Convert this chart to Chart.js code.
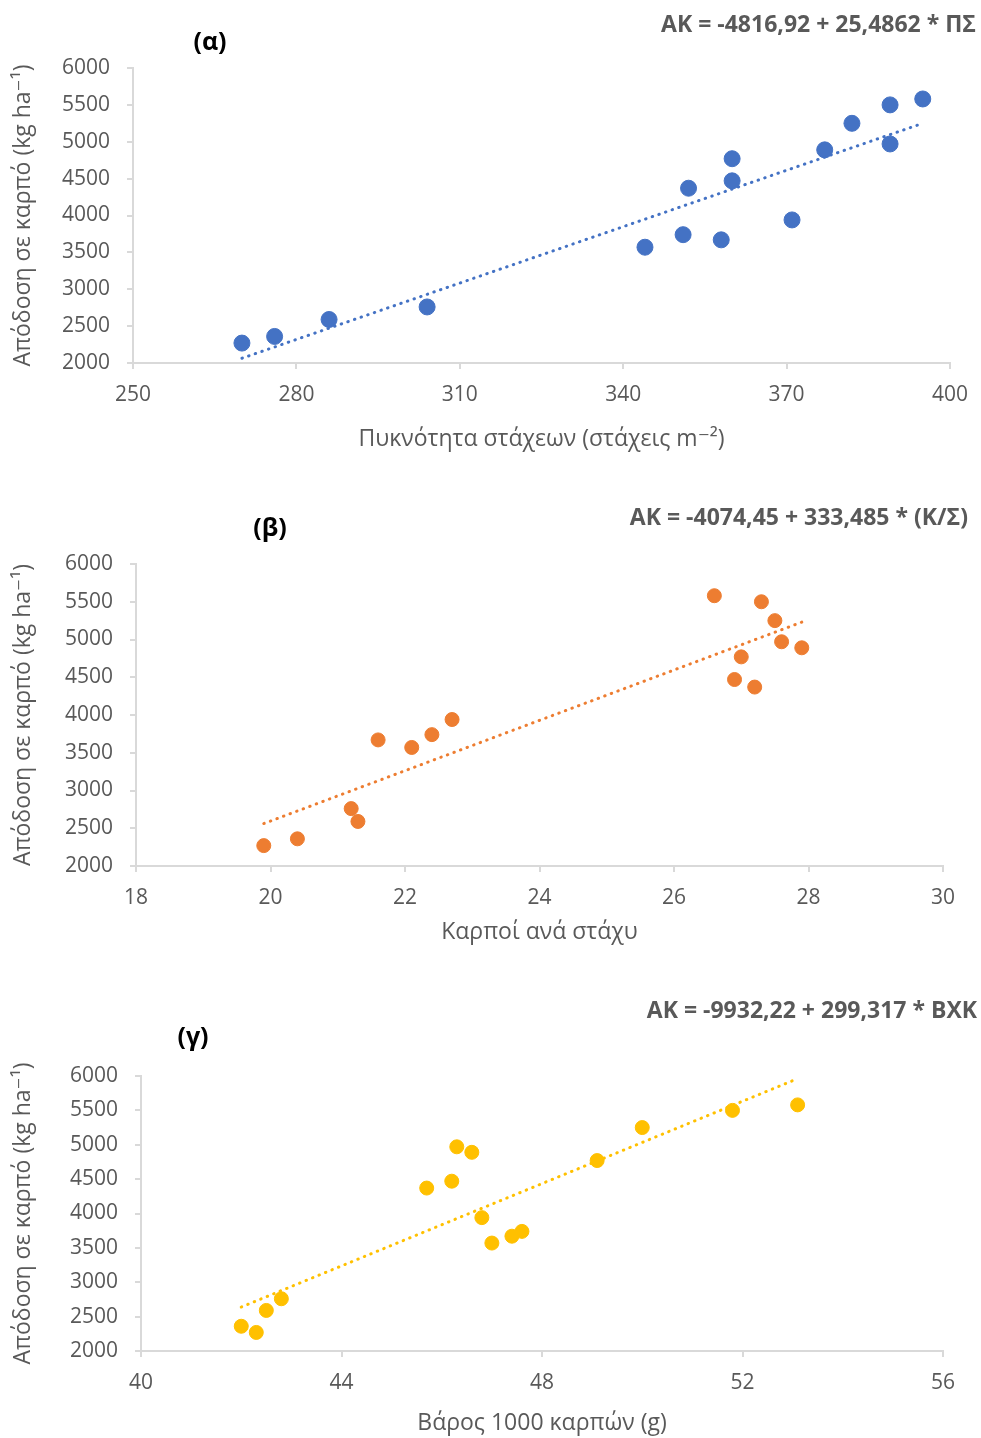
<!DOCTYPE html>
<html>
<head>
<meta charset="utf-8">
<script src="https://cdn.jsdelivr.net/npm/chart.js@4.4.1/dist/chart.umd.min.js"></script>
<style>
    body { margin: 0; background: #fff; width: 981px; height: 1438px; position: relative; overflow: hidden; }
    canvas { position: absolute; left: 0; }
</style>
</head>
<body>
<canvas id="chartA" width="981" height="470" style="top:0"></canvas>
<canvas id="chartB" width="981" height="470" style="top:480px"></canvas>
<canvas id="chartC" width="981" height="463" style="top:975px"></canvas>

<script>
// Απόδοση σε καρπό (kg/ha), ίδια σειρά σημείων και στα τρία διαγράμματα
var yieldValues = [2270, 2360, 2590, 2760, 3570, 3740, 3670, 4370, 4470, 4770, 3940, 4890, 5250, 5500, 4970, 5580];

// Πυκνότητα στάχεων (στάχεις/m2)
var spikeDensity = [270, 276, 286, 304, 344, 351, 358, 352, 360, 360, 371, 377, 382, 389, 389, 395];

// Καρποί ανά στάχυ
var grainsPerSpike = [19.9, 20.4, 21.3, 21.2, 22.1, 22.4, 21.6, 27.2, 26.9, 27.0, 22.7, 27.9, 27.5, 27.3, 27.6, 26.6];

// Βάρος 1000 καρπών (g)
var grainWeight = [42.3, 42.0, 42.5, 42.8, 47.0, 47.6, 47.4, 45.7, 46.2, 49.1, 46.8, 46.6, 50.0, 51.8, 46.3, 53.1];

// Συντελεστές των ευθειών παλινδρόμησης [σταθερά, κλίση]
var coefDensity = [-4816.92, 25.4862];
var coefGrains = [-4074.45, 333.485];
var coefWeight = [-9932.22, 299.317];

var yTicks = { min: 2000, max: 6000, step: 500 };
var yTitle = "Απόδοση σε καρπό (kg ha\u207B\u00B9)";

var FONT = '"Open Sans", "DejaVu Sans", sans-serif';
var GREY = "#595959";
var AXIS = "#d9d9d9";

// labels above the plot: panel letter on the left, equation on the right
var panelText = {
    id: "panelText",
    afterDraw: function (chart) {
        var o = chart.options.plugins.panelText;
        var ctx = chart.ctx;
        ctx.save();
        ctx.textBaseline = "middle";
        ctx.font = "bold 25px " + FONT;
        ctx.fillStyle = "#000";
        ctx.textAlign = "center";
        ctx.fillText(o.label, o.labelX, o.labelY);
        ctx.font = "bold 23px " + FONT;
        ctx.fillStyle = GREY;
        ctx.textAlign = "right";
        ctx.fillText(o.equation, o.eqX, o.eqY);
        ctx.restore();
    }
};

function trendPoints(xs, coef) {
    var lo = Math.min.apply(null, xs);
    var hi = Math.max.apply(null, xs);
    return [
        { x: lo, y: coef[0] + coef[1] * lo },
        { x: hi, y: coef[0] + coef[1] * hi }
    ];
}

function createScatter(cfg) {
    var points = cfg.xs.map(function (x, i) {
        return { x: x, y: yieldValues[i] };
    });

    var ctx = document.getElementById(cfg.id).getContext("2d");
    new Chart(ctx, {
        type: "scatter",
        data: {
            datasets: [{
                // trendline first so it is painted over the markers
                type: "line",
                data: trendPoints(cfg.xs, cfg.coef),
                borderColor: cfg.color,
                borderWidth: 3,
                borderDash: [0.5, 6.5],
                borderCapStyle: "round",
                pointRadius: 0,
                fill: false
            }, {
                data: points,
                backgroundColor: cfg.color,
                borderColor: cfg.color,
                pointRadius: cfg.radius,
                pointHoverRadius: cfg.radius
            }]
        },
        options: {
            responsive: false,
            animation: false,
            layout: {
                padding: { top: cfg.padTop, right: cfg.padRight, left: 0, bottom: 0 }
            },
            plugins: {
                legend: { display: false },
                tooltip: { enabled: false },
                panelText: {
                    label: cfg.label, labelX: cfg.labelX, labelY: cfg.labelY,
                    equation: cfg.equation, eqX: cfg.eqX, eqY: cfg.eqY
                }
            },
            scales: {
                x: {
                    type: "linear",
                    min: cfg.xMin,
                    max: cfg.xMax,
                    afterFit: function (scale) { scale.height = cfg.xAxisHeight; },
                    afterBuildTicks: function (scale) {
                        var t = [];
                        for (var v = cfg.xMin; v <= cfg.xMax + 1e-9; v += cfg.xStep) t.push({ value: v });
                        scale.ticks = t;
                    },
                    border: { color: AXIS, width: 2 },
                    grid: { drawOnChartArea: false, drawTicks: true, tickLength: 6, color: AXIS, lineWidth: 2 },
                    ticks: {
                        color: GREY, font: { family: FONT, size: 21 }, padding: 13, maxRotation: 0,
                        callback: function (v) { return String(v); }
                    },
                    title: {
                        display: true,
                        text: cfg.xTitle,
                        color: GREY,
                        font: { family: FONT, size: 23 },
                        padding: { top: 0, bottom: cfg.xTitlePad }
                    }
                },
                y: {
                    min: yTicks.min,
                    max: yTicks.max,
                    afterFit: function (scale) { scale.width = cfg.yAxisWidth; },
                    border: { color: AXIS, width: 2 },
                    grid: { drawOnChartArea: false, drawTicks: true, tickLength: 6, color: AXIS, lineWidth: 2 },
                    ticks: {
                        stepSize: yTicks.step, color: GREY, font: { family: FONT, size: 21 }, padding: 17,
                        callback: function (v) { return String(v); }
                    },
                    title: {
                        display: true,
                        text: yTitle,
                        color: GREY,
                        font: { family: FONT, size: 23 },
                        padding: { top: 10, bottom: 0 }
                    }
                }
            }
        },
        plugins: [panelText]
    });
}

createScatter({
    id: "chartA",
    xs: spikeDensity, coef: coefDensity,
    color: "#4472C4", radius: 8,
    xMin: 250, xMax: 400, xStep: 30,
    xTitle: "Πυκνότητα στάχεων (στάχεις m\u207B\u00B2)",
    label: "(α)", labelX: 210, labelY: 43,
    equation: "AK = -4816,92 + 25,4862 * ΠΣ", eqX: 976, eqY: 25,
    padTop: 68, padRight: 30, yAxisWidth: 133, xAxisHeight: 107, xTitlePad: 17
});

createScatter({
    id: "chartB",
    xs: grainsPerSpike, coef: coefGrains,
    color: "#ED7D31", radius: 7,
    xMin: 18, xMax: 30, xStep: 2,
    xTitle: "Καρποί ανά στάχυ",
    label: "(β)", labelX: 270, labelY: 49,
    equation: "AK = -4074,45 + 333,485 * (Κ/Σ)", eqX: 968, eqY: 38,
    padTop: 84, padRight: 38, yAxisWidth: 136, xAxisHeight: 84, xTitlePad: 4
});

createScatter({
    id: "chartC",
    xs: grainWeight, coef: coefWeight,
    color: "#FFC000", radius: 7,
    xMin: 40, xMax: 56, xStep: 4,
    xTitle: "Βάρος 1000 καρπών (g)",
    label: "(γ)", labelX: 193, labelY: 63,
    equation: "AK = -9932,22 + 299,317 * BXK", eqX: 977, eqY: 36,
    padTop: 101, padRight: 38, yAxisWidth: 141, xAxisHeight: 87, xTitlePad: 1
});
</script>
</body>
</html>
